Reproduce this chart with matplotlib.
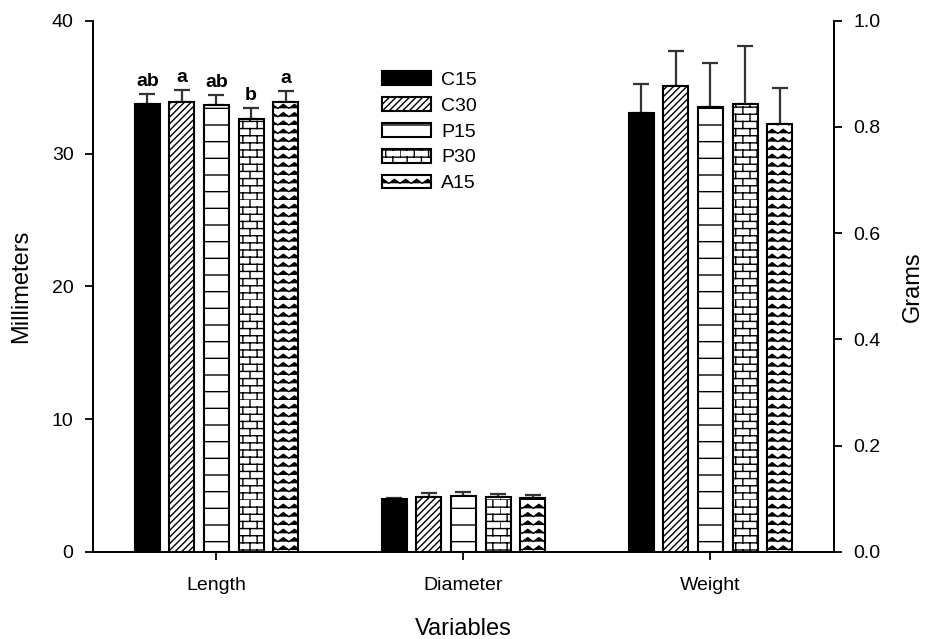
import warnings
import numpy as np
import matplotlib
matplotlib.use("Agg")
import matplotlib.pyplot as plt
from matplotlib import hatch as mhatch
from matplotlib.path import Path

warnings.filterwarnings("ignore")

variables = ["Length", "Diameter", "Weight"]
groups = ["C15", "C30", "P15", "P30", "A15"]

length_mean = [33.7, 33.9, 33.65, 32.6, 33.9]
length_se = [0.8, 0.9, 0.75, 0.8, 0.8]
length_letters = ["ab", "a", "ab", "b", "a"]

diameter_mean = [4.0, 4.16, 4.2, 4.14, 4.04]
diameter_se = [0.1, 0.28, 0.3, 0.25, 0.27]

weight_mean = [0.826, 0.877, 0.838, 0.843, 0.805]
weight_se = [0.055, 0.066, 0.083, 0.109, 0.068]


# extra hatch patterns: 'b' = brick wall, 'z' = zigzag
class BrickHatch(mhatch.HatchPatternBase):
    rows = 14
    cols = 7

    def __init__(self, hatch, density):
        self.on = hatch.count("b") > 0
        n = self.rows
        self.num_vertices = (n * 2 + n * self.cols * 2) if self.on else 0

    def set_vertices_and_codes(self, vertices, codes):
        n, c = self.rows, self.cols
        v = []
        for i in range(n):
            y = i / n
            v += [(0.0, y), (1.0, y)]
        for i in range(n):
            y0, y1 = i / n, (i + 1) / n
            off = (i % 2) * 0.5 / c
            for k in range(c):
                x = k / c + off
                v += [(x, y0), (x, y1)]
        vertices[:] = v
        codes[0::2] = Path.MOVETO
        codes[1::2] = Path.LINETO


class ZigzagHatch(mhatch.HatchPatternBase):
    rows = 12
    teeth = 9

    def __init__(self, hatch, density):
        self.on = hatch.count("z") > 0
        self.num_vertices = self.rows * (2 * self.teeth + 1) if self.on else 0

    def set_vertices_and_codes(self, vertices, codes):
        m, t = self.rows, self.teeth
        xs = np.linspace(0, 1, 2 * t + 1)
        v = []
        cd = []
        for j in range(m):
            y0 = j / m
            for k, x in enumerate(xs):
                v.append((x, y0 + 0.04 * (k % 2)))
                cd.append(Path.MOVETO if k == 0 else Path.LINETO)
        vertices[:] = v
        codes[:] = cd


mhatch._hatch_types.append(BrickHatch)
mhatch._hatch_types.append(ZigzagHatch)

plt.rcParams["font.family"] = ["Liberation Sans", "DejaVu Sans"]
plt.rcParams["hatch.linewidth"] = 1.0
plt.rcParams["hatch.color"] = "black"

fills = ["black", "white", "white", "white", "white"]
hatches = [None, "/////", "-", "b", "z"]

fig = plt.figure(figsize=(9.26, 6.39), dpi=100)
ax = fig.add_axes([0.1004, 0.1362, 0.8002, 0.8314])
ax2 = ax.twinx()

x = np.arange(len(variables))
width = 0.101
step = 0.14

for i, g in enumerate(groups):
    pos = x + (i - 2) * step
    # length and diameter on millimetre axis
    ax.bar(pos[:2], [length_mean[i], diameter_mean[i]], width,
           color=fills[i], edgecolor="black", linewidth=1.5,
           hatch=hatches[i], label=g, zorder=3)
    ax.errorbar(pos[:2], [length_mean[i], diameter_mean[i]],
                yerr=[[0, 0], [length_se[i], diameter_se[i]]],
                fmt="none", ecolor="#333333", elinewidth=1.6,
                capsize=6, capthick=1.6, zorder=2)
    ax.annotate(length_letters[i], (pos[0], length_mean[i] + length_se[i]),
                xytext=(0, 3), textcoords="offset points",
                ha="center", va="bottom", fontsize=14, fontweight="bold")
    # weight on gram axis
    ax2.bar(pos[2], weight_mean[i], width, color=fills[i],
            edgecolor="black", linewidth=1.5, hatch=hatches[i], zorder=3)
    ax2.errorbar(pos[2], weight_mean[i], yerr=[[0], [weight_se[i]]],
                 fmt="none", ecolor="#333333", elinewidth=1.6,
                 capsize=6, capthick=1.6, zorder=2)

ax.set_xlim(-0.5, 2.5)
ax.set_ylim(0, 40)
ax2.set_ylim(0, 1.0)
ax.set_yticks([0, 10, 20, 30, 40])
ax2.set_yticks(np.arange(0, 1.01, 0.2))
ax2.set_yticklabels([f"{v:.1f}" for v in np.arange(0, 1.01, 0.2)])
ax.set_xticks(x)
ax.set_xticklabels(variables)

for a in (ax, ax2):
    a.spines["top"].set_visible(False)
    for s in a.spines.values():
        s.set_linewidth(1.3)
    a.tick_params(direction="out", length=6, width=1.3, labelsize=14, pad=8)
ax.tick_params(axis="x", length=6, pad=12)

ax.set_xlabel("Variables", fontsize=17, labelpad=17)
ax.set_ylabel("Millimeters", fontsize=17, labelpad=14)
ax2.set_ylabel("Grams", fontsize=17, labelpad=15)

ax.legend(loc="upper left", bbox_to_anchor=(382 / 926, 1 - 71 / 639),
          bbox_transform=fig.transFigure, frameon=False, fontsize=14,
          handlelength=2.5, handleheight=0.72, labelspacing=0.42,
          handletextpad=0.55, borderpad=0, borderaxespad=0)

fig.savefig("out.png", dpi=100)
